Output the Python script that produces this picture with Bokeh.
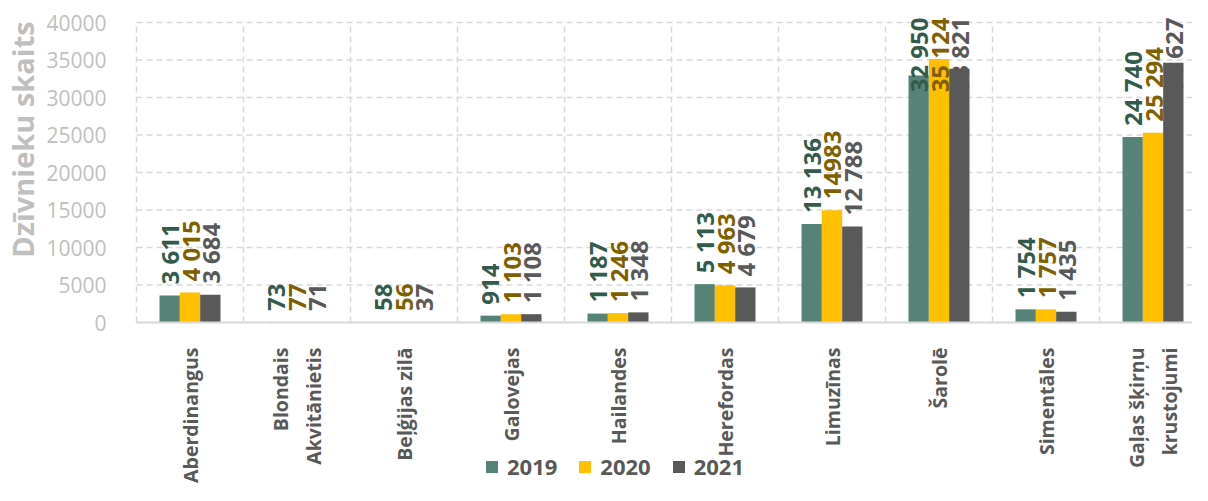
import math
from bokeh.plotting import figure
from bokeh.models import (ColumnDataSource, FixedTicker, Range1d, Legend, LegendItem,
                          NumeralTickFormatter)
from bokeh.core.properties import value
from bokeh.embed import file_html
from bokeh.resources import INLINE

# ---------------- data ----------------
categories = ["Aberdinangus", "Blondais\nAkvitānietis", "Beļģijas zilā", "Galovejas",
              "Hailandes", "Herefordas", "Limuzīnas", "Šarolē", "Simentāles",
              "Gaļas šķirņu\nkrustojumi"]
years = ["2019", "2020", "2021"]
v2019 = [3611, 73, 58, 914, 1187, 5113, 13136, 32950, 1754, 24740]
v2020 = [4015, 77, 56, 1103, 1246, 4963, 14983, 35124, 1757, 25294]
v2021 = [3684, 71, 37, 1108, 1348, 4679, 12788, 33821, 1435, 34627]
lbl2019 = ["3 611", "73", "58", "914", "1 187", "5 113", "13 136", "32 950", "1 754", "24 740"]
lbl2020 = ["4 015", "77", "56", "1 103", "1 246", "4 963", "14983", "35 124", "1 757", "25 294"]
lbl2021 = ["3 684", "71", "37", "1 108", "1 348", "4 679", "12 788", "33 821", "1 435", "34 627"]
y_ticks = [0, 5000, 10000, 15000, 20000, 25000, 30000, 35000, 40000]
y_title = "Dzīvnieku skaits"

# ---------------- style / layout ----------------
FONT = value("Open Sans")
bar_colors = ["#568277", "#FFC000", "#595959"]
label_colors = ["#335B4C", "#7F6000", "#595959"]
GRID = "#D9D9D9"
W, H = 1192, 485
PLOT_LEFT_PX = 136      # x pixel of the value area's left edge
BORDER_T = 8            # frame top edge
TOP_PAD_PX = 14         # from frame top to the 40000 grid line
LABEL_TOP_PX = 17       # highest point a value label may reach
PLOT_PX = 300           # pixels from 0 to 40000
Y_MAX = 40000
ZERO_PX = BORDER_T + TOP_PAD_PX + PLOT_PX          # y pixel of value 0
px_per_unit = PLOT_PX / Y_MAX
Y_START = -(H - ZERO_PX) / px_per_unit               # frame reaches the canvas bottom
Y_END = Y_MAX + TOP_PAD_PX / px_per_unit
CAT_PX = 107.0
X_START = -PLOT_LEFT_PX / CAT_PX                     # frame reaches the canvas left
X_END = (W - PLOT_LEFT_PX) / CAT_PX
BAR_W = 0.19
LABEL_GAP = 11
CHAR_PX = 12.5
TITLE_X_PX, TITLE_Y_PX = 22, 139   # centre of the y-axis title
TOP_ROOM = ZERO_PX - LABEL_TOP_PX

p = figure(width=W, height=H, output_backend="svg", toolbar_location=None,
           x_range=Range1d(X_START, X_END), y_range=Range1d(Y_START, Y_END),
           min_border_left=0, min_border_right=0, min_border_top=BORDER_T,
           min_border_bottom=0)
p.outline_line_color = None
p.background_fill_color = "white"

n_cat = len(categories)
p.xgrid.visible = False
p.ygrid.visible = False

# horizontal grid lines over the value area
p.segment(x0=[0] * len(y_ticks), y0=y_ticks, x1=[X_END] * len(y_ticks), y1=y_ticks,
          line_color=GRID, line_dash="6 4", line_width=1.5)
# vertical category separators
seps = list(range(n_cat + 1))
p.segment(x0=seps, y0=[0] * len(seps), x1=seps, y1=[Y_MAX] * len(seps),
          line_color=GRID, line_dash="6 4", line_width=1.5)

# x axis sits at value 0
p.xaxis.fixed_location = 0
p.xaxis.bounds = (0, X_END)
p.xaxis.ticker = FixedTicker(ticks=[i + 0.5 for i in range(n_cat)])
p.xaxis.major_label_overrides = {i + 0.5: c for i, c in enumerate(categories)}
p.xaxis.major_label_orientation = math.pi / 2
p.xaxis.major_label_standoff = 19
p.xaxis.major_label_text_font = "Open Sans"
p.xaxis.major_label_text_font_style = "bold"
p.xaxis.major_label_text_font_size = "19.5px"
p.xaxis.major_label_text_color = "#595959"
p.xaxis.axis_line_color = GRID
p.xaxis.axis_line_width = 2
p.xaxis.major_tick_line_color = None
p.xaxis.minor_tick_line_color = None

# y axis sits at the first category edge
p.yaxis.fixed_location = 0
p.yaxis.ticker = FixedTicker(ticks=y_ticks)
p.yaxis.formatter = NumeralTickFormatter(format="0")
p.yaxis.axis_line_color = None
p.yaxis.major_tick_line_color = None
p.yaxis.minor_tick_line_color = None
p.yaxis.major_label_standoff = 24
p.yaxis.major_label_text_font = "Open Sans"
p.yaxis.major_label_text_font_size = "21px"
p.yaxis.major_label_text_color = "#BFBFBF"

# y-axis title
p.text(x=[(TITLE_X_PX - PLOT_LEFT_PX) / CAT_PX], y=[(ZERO_PX - TITLE_Y_PX) / px_per_unit],
       text=[y_title], angle=math.pi / 2, text_align="center", text_baseline="middle",
       text_font=FONT, text_font_style="bold", text_font_size="29px", text_color="#BFBFBF")

series = [v2019, v2020, v2021]
labels = [lbl2019, lbl2020, lbl2021]
offsets = [-BAR_W, 0.0, BAR_W]

items = []
for s, (vals, off) in enumerate(zip(series, offsets)):
    xs = [i + 0.5 + off for i in range(len(vals))]
    src = ColumnDataSource(dict(x=xs, top=vals))
    r = p.vbar(x="x", top="top", width=BAR_W, source=src,
               fill_color=bar_colors[s], line_color=None)
    items.append(LegendItem(label=years[s], renderers=[r]))

top_anchor = (ZERO_PX - LABEL_TOP_PX) / px_per_unit
for s, (vals, lbls, off) in enumerate(zip(series, labels, offsets)):
    nx, ny, nt, tx, ty, tt = [], [], [], [], [], []
    for i, (v, t) in enumerate(zip(vals, lbls)):
        x = i + 0.5 + off
        need = v * px_per_unit + LABEL_GAP + len(t) * CHAR_PX
        if need > TOP_ROOM:
            tx.append(x); ty.append(top_anchor); tt.append(t)
        else:
            nx.append(x); ny.append(v); nt.append(t)
    common = dict(angle=math.pi / 2, text_baseline="middle", text_font=FONT,
                  text_font_style="bold", text_font_size="24px",
                  text_color=label_colors[s])
    p.text(x="x", y="y", text="t", source=ColumnDataSource(dict(x=nx, y=ny, t=nt)),
           text_align="left", y_offset=-LABEL_GAP, **common)
    if tt:
        p.text(x="x", y="y", text="t", source=ColumnDataSource(dict(x=tx, y=ty, t=tt)),
               text_align="right", **common)

legend = Legend(items=items, orientation="horizontal",
                location=(486 - PLOT_LEFT_PX + PLOT_LEFT_PX - 2, 4),
                glyph_width=15, glyph_height=15, label_height=15, label_standoff=8,
                spacing=20, padding=0, margin=0, border_line_color=None,
                background_fill_alpha=0,
                label_text_font="Open Sans", label_text_font_style="bold",
                label_text_font_size="22px", label_text_color="#595959")
p.add_layout(legend, "center")

open("out.html", "w").write(file_html(p, INLINE))
